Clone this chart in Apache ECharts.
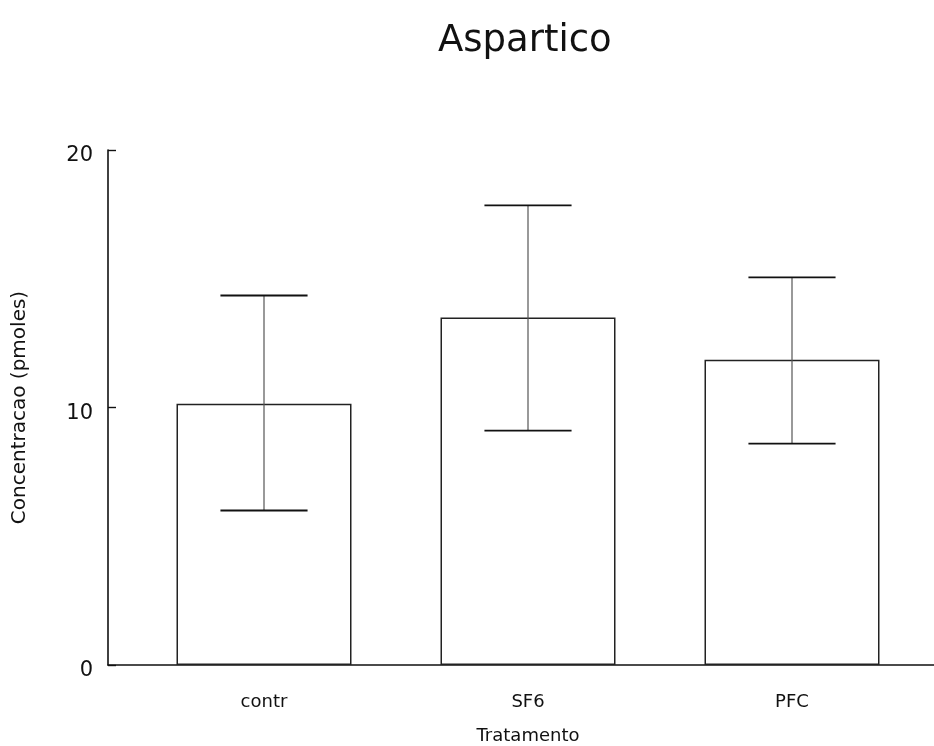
<!DOCTYPE html>
<html lang="pt">
<head>
    <meta charset="UTF-8">
    <title>Aspartico</title>
    <script src="https://cdn.jsdelivr.net/npm/echarts@6/dist/echarts.min.js"></script>
    <style>
        body{
            margin: 0;
            background: #fff;
        }
        #chart{
            width: 934px;
            height: 746px;
        }
    </style>
</head>
<body>
    <div id="chart"></div>
    <script>
        // dados
        var categories = ['contr', 'SF6', 'PFC'];
        var means = [10.15, 13.5, 11.85];
        var errUpper = [14.35, 17.85, 15.05];
        var errLower = [6.0, 9.1, 8.6];
        var yTicks = [0, 10, 20];

        var font = 'DejaVu Sans';

        var errData = [];
        for (var i = 0; i < categories.length; i++) {
            errData.push([i, errLower[i], errUpper[i]]);
        }

        function renderErr(params, api) {
            var x = api.value(0);
            var lo = api.coord([x, api.value(1)]);
            var hi = api.coord([x, api.value(2)]);
            var half = api.size([1, 0])[0] * 0.165;
            var style = { stroke: '#111', lineWidth: 1.8 };
            return {
                type: 'group',
                children: [
                    { type: 'line', shape: { x1: hi[0], y1: hi[1], x2: lo[0], y2: lo[1] }, style: { stroke: '#555', lineWidth: 1.2 } },
                    { type: 'line', shape: { x1: hi[0] - half, y1: hi[1], x2: hi[0] + half, y2: hi[1] }, style: style },
                    { type: 'line', shape: { x1: lo[0] - half, y1: lo[1], x2: lo[0] + half, y2: lo[1] }, style: style }
                ]
            };
        }

        var myChart = echarts.init(document.getElementById('chart'));
        var option = {
            backgroundColor: '#fff',
            animation: false,
            title: {
                text: 'Aspartico',
                left: 433,
                top: 18,
                textStyle: { fontFamily: font, fontSize: 37, fontWeight: 'normal', color: '#111' }
            },
            grid: [
                // grade dos eixos (linha do eixo x vai ate a borda)
                { left: 108, right: 0, top: 150, bottom: 81, outerBoundsMode: 'none' },
                // grade das barras
                { left: 132, right: 10, top: 150, bottom: 81, outerBoundsMode: 'none' }
            ],
            xAxis: [
                {
                    gridIndex: 0, type: 'value', min: 0, max: 1,
                    axisLine: { show: true, lineStyle: { color: '#111', width: 1.6 } },
                    axisTick: { show: false }, axisLabel: { show: false }, splitLine: { show: false }
                },
                {
                    gridIndex: 1, type: 'category', data: categories,
                    axisLine: { show: false }, axisTick: { show: false },
                    axisLabel: { margin: 28, fontFamily: font, fontSize: 18, color: '#111' },
                    name: 'Tratamento', nameLocation: 'middle', nameGap: 62,
                    nameTextStyle: { fontFamily: font, fontSize: 18, color: '#111' }
                }
            ],
            yAxis: [
                {
                    gridIndex: 0, type: 'value', min: 0, max: 20, interval: 10,
                    axisLine: { show: true, lineStyle: { color: '#111', width: 1.6 } },
                    axisTick: { show: true, inside: true, length: 8, lineStyle: { color: '#111', width: 1.4 } },
                    axisLabel: {
                        margin: 15, fontFamily: font, fontSize: 21, color: '#111',
                        formatter: function (v) { return yTicks.indexOf(v) >= 0 ? '{v|' + v + '}' : ''; },
                        rich: { v: { fontFamily: font, fontSize: 21, color: '#111', padding: [12, 0, 0, 0] } }
                    },
                    splitLine: { show: false },
                    name: 'Concentracao (pmoles)', nameLocation: 'middle', nameGap: 78,
                    nameTextStyle: { fontFamily: font, fontSize: 20, color: '#111' }
                },
                {
                    gridIndex: 1, type: 'value', min: 0, max: 20, show: false
                }
            ],
            series: [
                {
                    type: 'bar', xAxisIndex: 1, yAxisIndex: 1,
                    data: means, barWidth: 175,
                    itemStyle: { color: '#fff', borderColor: '#222', borderWidth: 1.5 },
                    z: 2
                },
                {
                    type: 'custom', xAxisIndex: 1, yAxisIndex: 1,
                    data: errData, renderItem: renderErr, z: 3
                }
            ]
        };
        myChart.setOption(option);
    </script>
</body>
</html>
